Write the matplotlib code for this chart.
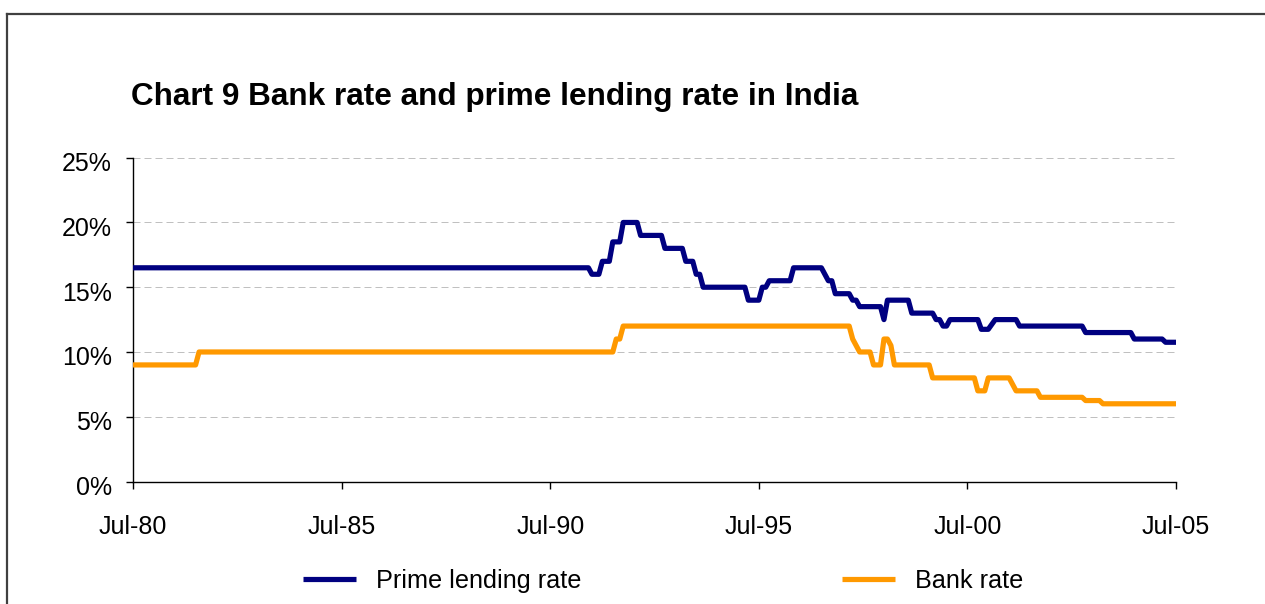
import matplotlib
matplotlib.use("Agg")
import matplotlib.pyplot as plt
from matplotlib.lines import Line2D
from matplotlib.ticker import FuncFormatter
from matplotlib.transforms import ScaledTranslation

plt.rcParams['font.family'] = ['Liberation Sans', 'DejaVu Sans']

# ---- data (vertices of the monthly series) ----
prime_dates = ["1980-07", "1991-06", "1991-07", "1991-09", "1991-10", "1991-12", "1992-01",
               "1992-03", "1992-04", "1992-08", "1992-09", "1993-03", "1993-04", "1993-09",
               "1993-10", "1993-12", "1994-01", "1994-02", "1994-03", "1995-03", "1995-04",
               "1995-07", "1995-08", "1995-09", "1995-10", "1996-04", "1996-05", "1997-01",
               "1997-03", "1997-04", "1997-05", "1997-09", "1997-10", "1997-11", "1997-12",
               "1998-06", "1998-07", "1998-08", "1999-02", "1999-03", "1999-09", "1999-10",
               "1999-11", "1999-12", "2000-01", "2000-02", "2000-10", "2000-11", "2001-01",
               "2001-03", "2001-09", "2001-10", "2003-04", "2003-05", "2004-06", "2004-07",
               "2005-03", "2005-04", "2005-07"]
prime_values = [16.5, 16.5, 16.0, 16.0, 17.0, 17.0, 18.5,
                18.5, 20.0, 20.0, 19.0, 19.0, 18.0, 18.0,
                17.0, 17.0, 16.0, 16.0, 15.0, 15.0, 14.0,
                14.0, 15.0, 15.0, 15.5, 15.5, 16.5, 16.5,
                15.5, 15.5, 14.5, 14.5, 14.0, 14.0, 13.5,
                13.5, 12.5, 14.0, 14.0, 13.0, 13.0, 12.5,
                12.5, 12.0, 12.0, 12.5, 12.5, 11.75, 11.75,
                12.5, 12.5, 12.0, 12.0, 11.5, 11.5, 11.0,
                11.0, 10.75, 10.75]

bank_dates = ["1980-07", "1982-01", "1982-02", "1992-01", "1992-02", "1992-03", "1992-04",
              "1997-09", "1997-10", "1997-12", "1998-03", "1998-04", "1998-06", "1998-07",
              "1998-08", "1998-09", "1998-10", "1999-08", "1999-09", "2000-09", "2000-10",
              "2000-12", "2001-01", "2001-07", "2001-09", "2002-03", "2002-04", "2003-04",
              "2003-05", "2003-09", "2003-10", "2005-07"]
bank_values = [9.0, 9.0, 10.0, 10.0, 11.0, 11.0, 12.0,
               12.0, 11.0, 10.0, 10.0, 9.0, 9.0, 11.0,
               11.0, 10.5, 9.0, 9.0, 8.0, 8.0, 7.0,
               7.0, 8.0, 8.0, 7.0, 7.0, 6.5, 6.5,
               6.25, 6.25, 6.0, 6.0]

tick_dates = ["1980-07", "1985-07", "1990-07", "1995-07", "2000-07", "2005-07"]
tick_labels = ["Jul-80", "Jul-85", "Jul-90", "Jul-95", "Jul-00", "Jul-05"]
y_ticks = [0, 5, 10, 15, 20, 25]

title = "Chart 9 Bank rate and prime lending rate in India"
series_names = ["Prime lending rate", "Bank rate"]
colors = ["#000080", "#FF9900"]


def to_year(s):
    y, m = s.split("-")
    return int(y) + (int(m) - 1) / 12.0


W, H = 1265, 604
fig = plt.figure(figsize=(W / 100, H / 100), dpi=100)

ax_left, ax_right = 133, 1176
ax_top, ax_bottom = 157.7, 481.5
ax = fig.add_axes([ax_left / W, 1 - ax_bottom / H, (ax_right - ax_left) / W, (ax_bottom - ax_top) / H])

px = 0.72  # one pixel in points
ax.plot([to_year(d) for d in prime_dates], prime_values, color=colors[0], lw=5.2 * px,
        solid_joinstyle='round', solid_capstyle='butt', label=series_names[0], zorder=3)
ax.plot([to_year(d) for d in bank_dates], bank_values, color=colors[1], lw=5.2 * px,
        solid_joinstyle='round', solid_capstyle='butt', label=series_names[1], zorder=3)

ax.set_xlim(to_year(tick_dates[0]), to_year(tick_dates[-1]))
ax.set_ylim(0, 25)
ax.set_xticks([to_year(d) for d in tick_dates])
ax.set_xticklabels(tick_labels)
ax.set_yticks(y_ticks)
ax.yaxis.set_major_formatter(FuncFormatter(lambda v, p: f"{int(v)}%"))

for yv in y_ticks[1:]:
    ax.axhline(yv, color="#C0C0C0", lw=px, linestyle=(0, (7, 4)), zorder=1)

for s in ["top", "right"]:
    ax.spines[s].set_visible(False)
for s in ["left", "bottom"]:
    ax.spines[s].set_color("black")
    ax.spines[s].set_linewidth(1.0)

ax.tick_params(axis='both', direction='out', length=7 * px, width=1.0, colors='black',
               labelsize=18, labelcolor='black')
ax.tick_params(axis='x', pad=19)
ax.tick_params(axis='y', pad=10)

fig.canvas.draw()
off = ScaledTranslation(0, -4 / 100, fig.dpi_scale_trans)
for lab in ax.get_yticklabels():
    lab.set_transform(lab.get_transform() + off)

fig.text(131 / W, 1 - 105 / H, title, fontsize=22.7, fontweight='bold', ha='left', va='baseline')

leg = ax.legend(loc='center left', bbox_to_anchor=(303 / W, 1 - 581 / H), bbox_transform=fig.transFigure,
                ncol=2, frameon=False, fontsize=18.2, handlelength=2.1, handletextpad=0.8,
                columnspacing=10.3, borderpad=0, borderaxespad=0)

# outer frame (partially visible)
fig.add_artist(Line2D([7 / W, 1.0], [1 - 14 / H, 1 - 14 / H], transform=fig.transFigure,
                      color="#404040", lw=1.6))
fig.add_artist(Line2D([7 / W, 7 / W], [1 - 14 / H, 0], transform=fig.transFigure,
                      color="#404040", lw=1.6))

fig.savefig("out.png", dpi=100)
